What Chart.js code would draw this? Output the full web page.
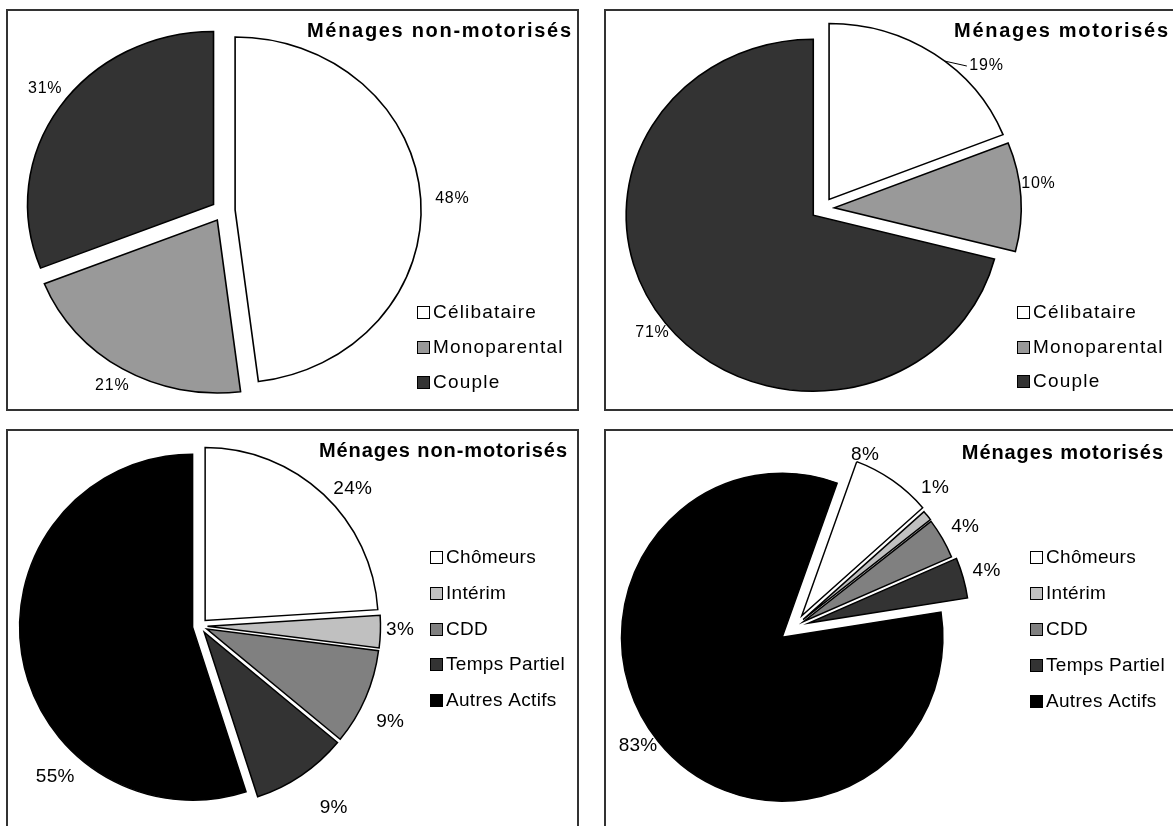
<!DOCTYPE html>
<html><head><meta charset="utf-8">
<script src="https://cdn.jsdelivr.net/npm/chart.js@4.4.1/dist/chart.umd.min.js"></script>
<style>
html,body{margin:0;padding:0;background:#fff;overflow:hidden;width:1173px;height:826px;}
.panel{position:absolute;border:2px solid #333;box-sizing:border-box;overflow:hidden;background:#fff;}
.panel canvas{position:absolute;left:0;top:0;}
</style></head><body>
<div class="panel" style="left:6px;top:9px;width:573px;height:402px"><canvas id="c1" width="569" height="398"></canvas></div>
<div class="panel" style="left:604px;top:9px;width:580px;height:402px"><canvas id="c2" width="576" height="398"></canvas></div>
<div class="panel" style="left:6px;top:429px;width:573px;height:410px"><canvas id="c3" width="569" height="406"></canvas></div>
<div class="panel" style="left:604px;top:429px;width:580px;height:410px"><canvas id="c4" width="576" height="406"></canvas></div>
<script>
// ---- data ----
const householdLabels = ['Célibataire', 'Monoparental', 'Couple'];
const householdNonMotorised = [48, 21, 31];
const householdMotorised = [19, 10, 71];
const activityLabels = ['Chômeurs', 'Intérim', 'CDD', 'Temps Partiel', 'Autres Actifs'];
const activityNonMotorised = [24, 3, 9, 9, 55];
const activityMotorised = [8, 1, 4, 4, 83];
const titleNonMotorised = 'Ménages non-motorisés';
const titleMotorised = 'Ménages motorisés';

// ---- styles ----
const householdColors = ['#FFFFFF', '#999999', '#333333'];
const activityColors = ['#FFFFFF', '#C0C0C0', '#808080', '#333333', '#000000'];
const FONT = '"Liberation Sans", Arial, sans-serif';

const deco = {
  id: 'deco',
  afterUpdate(chart) {
    const o = chart.options.plugins.deco;
    const meta = chart.getDatasetMeta(0);
    meta.data.forEach((el, i) => {
      const base = Object.getPrototypeOf(el).draw;
      const off = o.offsets[i];
      el.draw = function (ctx, area) {
        ctx.save();
        ctx.translate(this.x, this.y);
        ctx.scale(o.sx, 1);
        ctx.translate(-this.x, -this.y);
        const mid = (this.startAngle + this.endAngle) / 2;
        ctx.translate(Math.cos(mid) * off, Math.sin(mid) * off);
        base.call(this, ctx, area);
        ctx.restore();
      };
    });
  },
  afterDraw(chart) {
    const o = chart.options.plugins.deco;
    const ctx = chart.ctx;
    const meta = chart.getDatasetMeta(0);
    const ds = chart.data.datasets[0];
    const total = ds.data.reduce((a, b) => a + b, 0);
    ctx.save();
    // percentage labels
    ctx.font = o.labelFont + 'px ' + FONT;
    ctx.letterSpacing = o.labelSpacing + 'px';
    ctx.fillStyle = '#000';
    ctx.textAlign = 'center';
    ctx.textBaseline = 'middle';
    meta.data.forEach((el, i) => {
      const L = o.labels[i];
      const mid = (el.startAngle + el.endAngle) / 2;
      const a = mid + L.da * Math.PI / 180;
      const d = el.outerRadius + o.offsets[i] + L.extra;
      const x = el.x + o.sx * d * Math.cos(a);
      const y = el.y + d * Math.sin(a);
      const txt = Math.round(ds.data[i] / total * 100) + '%';
      ctx.fillText(txt, x + o.labelSpacing / 2, y);
      if (L.leader !== undefined) {
        const la = (L.leader - 90) * Math.PI / 180;
        const ox = el.x + o.sx * o.offsets[i] * Math.cos(mid);
        const oy = el.y + o.offsets[i] * Math.sin(mid);
        const sx0 = ox + o.sx * el.outerRadius * Math.cos(la);
        const sy0 = oy + el.outerRadius * Math.sin(la);
        const w = ctx.measureText(txt).width;
        ctx.beginPath();
        ctx.lineWidth = 1;
        ctx.strokeStyle = '#000';
        ctx.moveTo(sx0, sy0);
        ctx.lineTo(x - w / 2 - 2, y);
        ctx.stroke();
      }
    });
    // legend
    const lg = o.legend;
    ctx.font = lg.font + 'px ' + FONT;
    ctx.letterSpacing = lg.spacing + 'px';
    ctx.textAlign = 'left';
    chart.data.labels.forEach((lab, i) => {
      const cy = Math.round(lg.y0 + i * lg.dy);
      ctx.fillStyle = ds.backgroundColor[i];
      ctx.fillRect(lg.x + 0.5, cy - lg.size / 2 + 0.5, lg.size, lg.size);
      ctx.lineWidth = 1;
      ctx.strokeStyle = '#000';
      ctx.strokeRect(lg.x + 0.5, cy - lg.size / 2 + 0.5, lg.size, lg.size);
      ctx.fillStyle = '#000';
      ctx.fillText(lab, lg.x + lg.size + lg.gap, cy + 1);
    });
    // title
    const t = o.title;
    ctx.font = 'bold ' + t.font + 'px ' + FONT;
    ctx.letterSpacing = t.spacing + 'px';
    ctx.textAlign = 'right';
    ctx.fillText(t.text, t.right + t.spacing, t.y);
    ctx.restore();
  }
};

function makePie(id, labels, values, colors, cfg) {
  const canvas = document.getElementById(id);
  const W = canvas.width, H = canvas.height;
  const padding = {
    left: Math.max(0, 2 * cfg.cx - W), right: Math.max(0, W - 2 * cfg.cx),
    top: Math.max(0, 2 * cfg.cy - H), bottom: Math.max(0, H - 2 * cfg.cy)
  };
  return new Chart(canvas, {
    type: 'pie',
    data: {
      labels: labels,
      datasets: [{
        data: values,
        backgroundColor: colors,
        borderColor: '#000',
        borderWidth: 1.5,
        borderJoinStyle: 'miter',
        borderAlign: 'center'
      }]
    },
    options: {
      responsive: false,
      maintainAspectRatio: false,
      devicePixelRatio: 1,
      animation: false,
      events: [],
      rotation: cfg.rotation || 0,
      radius: cfg.r,
      layout: { padding: padding },
      plugins: {
        legend: { display: false },
        title: { display: false },
        tooltip: { enabled: false },
        deco: cfg
      }
    },
    plugins: [deco]
  });
}

makePie('c1', householdLabels, householdNonMotorised, householdColors, {
  cx: 215.3, cy: 199.6, r: 173, sx: 1.075, offsets: [11, 11, 11],
  labelFont: 16, labelSpacing: 0.8,
  labels: [{ da: 0.5, extra: 29 }, { da: 0, extra: 19.7 }, { da: 2, extra: 21.8 }],
  legend: { x: 409, y0: 301, dy: 35, size: 12, gap: 4, font: 19, spacing: 1.2 },
  title: { text: titleNonMotorised, right: 563, y: 20, font: 20, spacing: 1.7 }
});
makePie('c2', householdLabels, householdMotorised, householdColors, {
  cx: 216.5, cy: 197.5, r: 176, sx: 1.063, offsets: [11, 11, 11],
  labelFont: 16, labelSpacing: 0.8,
  labels: [{ da: 13, extra: 22.7, leader: 38.2 }, { da: -3.3, extra: 17.2 }, { da: 0, extra: 16 }],
  legend: { x: 411, y0: 301, dy: 34.5, size: 12, gap: 4, font: 19, spacing: 1.2 },
  title: { text: titleMotorised, right: 562, y: 20, font: 20, spacing: 1.7 }
});
makePie('c3', activityLabels, activityNonMotorised, activityColors, {
  cx: 192, cy: 195, r: 173, sx: 1, offsets: [7.5, 7.5, 7.5, 7.5, 7.5],
  labelFont: 19, labelSpacing: 0.3,
  labels: [{ da: 4.9, extra: 24.5 }, { da: -0.7, extra: 19.5 }, { da: 3.4, extra: 32.4 }, { da: -2.1, extra: 45.2 }, { da: -37.2, extra: 28.8 }],
  legend: { x: 422, y0: 126, dy: 35.8, size: 12, gap: 4, font: 19, spacing: 0.3 },
  title: { text: titleNonMotorised, right: 559, y: 20, font: 20, spacing: 0.9 }
});
makePie('c4', activityLabels, activityMotorised, activityColors, {
  cx: 188, cy: 196.3, r: 164, sx: 0.98, rotation: 20, offsets: [14, 12, 11.5, 15.6, 15.6],
  labelFont: 19, labelSpacing: 0.3,
  labels: [{ da: -11.6, extra: 8.9 }, { da: -4.7, extra: 24.3 }, { da: 0.5, extra: 25.8 }, { da: 0, extra: 24.7 }, { da: 2.7, extra: 19 }],
  legend: { x: 424, y0: 126, dy: 36, size: 12, gap: 4, font: 19, spacing: 0.3 },
  title: { text: titleMotorised, right: 557, y: 22, font: 20, spacing: 0.9 }
});
</script>
</body></html>
